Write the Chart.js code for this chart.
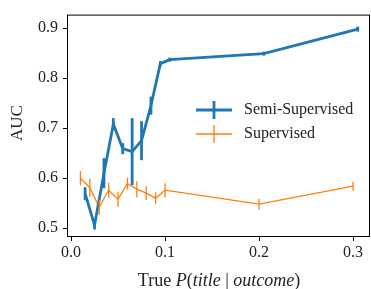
<!DOCTYPE html>
<html>
<head>
<meta charset="utf-8">
<script src="https://cdn.jsdelivr.net/npm/chart.js@4"></script>
<style>
  html, body { margin: 0; padding: 0; background: #fff; }
  #wrap { width: 371px; height: 289px; }
</style>
</head>
<body>
<div id="wrap"><canvas id="aucChart" width="371" height="289"></canvas></div>
<script>
// Semi-supervised series
const xSemi = [0.015, 0.025, 0.035, 0.045, 0.055, 0.065, 0.075, 0.085, 0.095, 0.105, 0.205, 0.305];
const aucSemi = [0.569, 0.506, 0.610, 0.708, 0.659, 0.653, 0.675, 0.745, 0.829, 0.837, 0.849, 0.898];
const errSemi = [0.013, 0.008, 0.030, 0.012, 0.011, 0.067, 0.039, 0.018, 0.005, 0.004, 0.004, 0.005];

// Supervised series
const xSup = [0.01, 0.02, 0.03, 0.04, 0.05, 0.06, 0.07, 0.08, 0.09, 0.10, 0.20, 0.30];
const aucSup = [0.600, 0.581, 0.542, 0.576, 0.558, 0.589, 0.578, 0.570, 0.560, 0.576, 0.548, 0.584];
const errSup = [0.014, 0.018, 0.015, 0.015, 0.015, 0.012, 0.016, 0.014, 0.012, 0.014, 0.011, 0.009];

const xTicks = [0.0, 0.1, 0.2, 0.3];
const yTicks = [0.5, 0.6, 0.7, 0.8, 0.9];

const BLUE = "#1f77b4";
const ORANGE = "#ff7f0e";
const FONT = "'Liberation Serif', 'DejaVu Serif', serif";

function toPoints(xs, ys) {
  return xs.map((x, i) => ({ x: x, y: ys[i] }));
}

// vertical error bars, drawn through the chart's scales
const errorBars = {
  id: "errorBars",
  afterDatasetsDraw(chart) {
    const ctx = chart.ctx;
    const xs = chart.scales.x, ys = chart.scales.y;
    chart.data.datasets.forEach(ds => {
      if (!ds.errors) return;
      ctx.save();
      ctx.strokeStyle = ds.borderColor;
      ctx.lineWidth = ds.errWidth;
      ds.data.forEach((p, i) => {
        const px = xs.getPixelForValue(p.x);
        ctx.beginPath();
        ctx.moveTo(px, ys.getPixelForValue(p.y - ds.errors[i]));
        ctx.lineTo(px, ys.getPixelForValue(p.y + ds.errors[i]));
        ctx.stroke();
      });
      ctx.restore();
    });
  }
};

// frame, legend and axis titles
const decorations = {
  id: "decorations",
  afterDraw(chart) {
    const ctx = chart.ctx;
    const a = chart.chartArea;
    ctx.save();
    ctx.strokeStyle = "#000";
    ctx.lineWidth = 1;
    ctx.strokeRect(a.left + 0.5, a.top + 0.5, a.right - a.left - 1, a.bottom - a.top - 1);

    // legend
    const entries = [
      { label: "Semi-Supervised", color: BLUE, w: 2.8, y: 110 },
      { label: "Supervised", color: ORANGE, w: 1.3, y: 134 }
    ];
    entries.forEach(e => {
      ctx.strokeStyle = e.color;
      ctx.lineWidth = e.w;
      ctx.beginPath();
      ctx.moveTo(196, e.y); ctx.lineTo(232, e.y);
      ctx.moveTo(214, e.y - 9); ctx.lineTo(214, e.y + 9);
      ctx.stroke();
      ctx.fillStyle = "#222";
      ctx.font = "16px " + FONT;
      ctx.textBaseline = "middle";
      ctx.textAlign = "left";
      ctx.fillText(e.label, 244, e.y);
    });

    // y title
    ctx.save();
    ctx.translate(18, 123);
    ctx.rotate(-Math.PI / 2);
    ctx.font = "17px " + FONT;
    ctx.textAlign = "center";
    ctx.textBaseline = "middle";
    ctx.fillText("AUC", 0, 0);
    ctx.restore();

    // x title with italic parts
    const parts = [
      ["True ", false], ["P", true], ["(", false], ["title", true],
      [" | ", false], ["outcome", true], [")", false]
    ];
    let total = 0;
    parts.forEach(p => {
      ctx.font = (p[1] ? "italic " : "") + "18px " + FONT;
      total += ctx.measureText(p[0]).width;
    });
    let cx = 219 - total / 2;
    ctx.textAlign = "left";
    ctx.textBaseline = "middle";
    parts.forEach(p => {
      ctx.font = (p[1] ? "italic " : "") + "18px " + FONT;
      ctx.fillText(p[0], cx, 281);
      cx += ctx.measureText(p[0]).width;
    });
    ctx.restore();
  }
};

new Chart(document.getElementById("aucChart"), {
  type: "line",
  data: {
    datasets: [
      {
        label: "Semi-Supervised",
        data: toPoints(xSemi, aucSemi),
        errors: errSemi,
        errWidth: 2.8,
        borderColor: BLUE,
        borderWidth: 2.8,
        pointRadius: 0,
        tension: 0,
        fill: false
      },
      {
        label: "Supervised",
        data: toPoints(xSup, aucSup),
        errors: errSup,
        errWidth: 1.3,
        borderColor: ORANGE,
        borderWidth: 1.3,
        pointRadius: 0,
        tension: 0,
        fill: false
      }
    ]
  },
  options: {
    responsive: false,
    animation: false,
    layout: { padding: { top: 10, right: 1, left: 0, bottom: 0 } },
    plugins: {
      legend: { display: false },
      tooltip: { enabled: false }
    },
    scales: {
      x: {
        type: "linear",
        min: -0.0043,
        max: 0.318,
        afterBuildTicks: s => { s.ticks = xTicks.map(v => ({ value: v })); },
        afterFit: s => { s.height = 52; },
        grid: { drawOnChartArea: false, tickLength: 4, color: "#000" },
        border: { display: false },
        ticks: {
          color: "#222",
          padding: 2,
          font: { family: FONT, size: 16 },
          callback: v => v.toFixed(1)
        }
      },
      y: {
        min: 0.4824,
        max: 0.927,
        afterBuildTicks: s => { s.ticks = yTicks.map(v => ({ value: v })); },
        afterFit: s => { s.width = 67; },
        grid: { drawOnChartArea: false, tickLength: 4, color: "#000" },
        border: { display: false },
        ticks: {
          color: "#222",
          padding: 5,
          font: { family: FONT, size: 16 },
          callback: v => v.toFixed(1)
        }
      }
    }
  },
  plugins: [errorBars, decorations]
});
</script>
</body>
</html>
